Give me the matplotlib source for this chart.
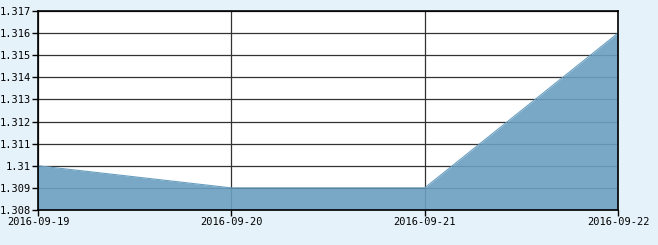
import matplotlib
matplotlib.use("Agg")
import matplotlib.pyplot as plt

dates = ["2016-09-19", "2016-09-20", "2016-09-21", "2016-09-22"]
values = [1.310, 1.309, 1.309, 1.316]
yticks = [1.308, 1.309, 1.31, 1.311, 1.312, 1.313, 1.314, 1.315, 1.316, 1.317]
ytick_labels = ["1.308", "1.309", "1.31", "1.311", "1.312", "1.313", "1.314", "1.315", "1.316", "1.317"]

bg = "#e6f2fa"
fig = plt.figure(figsize=(6.58, 2.45), dpi=100, facecolor=bg)
ax = fig.add_axes([38 / 658, 35 / 245, 580 / 658, 199 / 245])
ax.set_facecolor("white")

x = list(range(len(dates)))
ax.fill_between(x, values, 1.308, color="#6a9fc0", alpha=0.9, lw=0, zorder=3)
ax.plot(x, values, color="#6a9fc0", lw=0.8, zorder=3)

ax.set_xlim(0, len(dates) - 1)
ax.set_ylim(1.308, 1.317)
ax.set_xticks(x)
ax.set_xticklabels(dates, family="DejaVu Sans Mono", fontsize=7.5)
ax.set_yticks(yticks)
ax.set_yticklabels(ytick_labels, family="DejaVu Sans Mono", fontsize=7.5)
ax.grid(True, color="#333333", lw=0.9, zorder=1)
ax.set_axisbelow(True)
for s in ax.spines.values():
    s.set_color("black")
    s.set_linewidth(1.2)
    s.set_zorder(5)
ax.tick_params(length=4, width=1, color="black", pad=1)

fig.savefig("out.png", dpi=100, facecolor=bg)
